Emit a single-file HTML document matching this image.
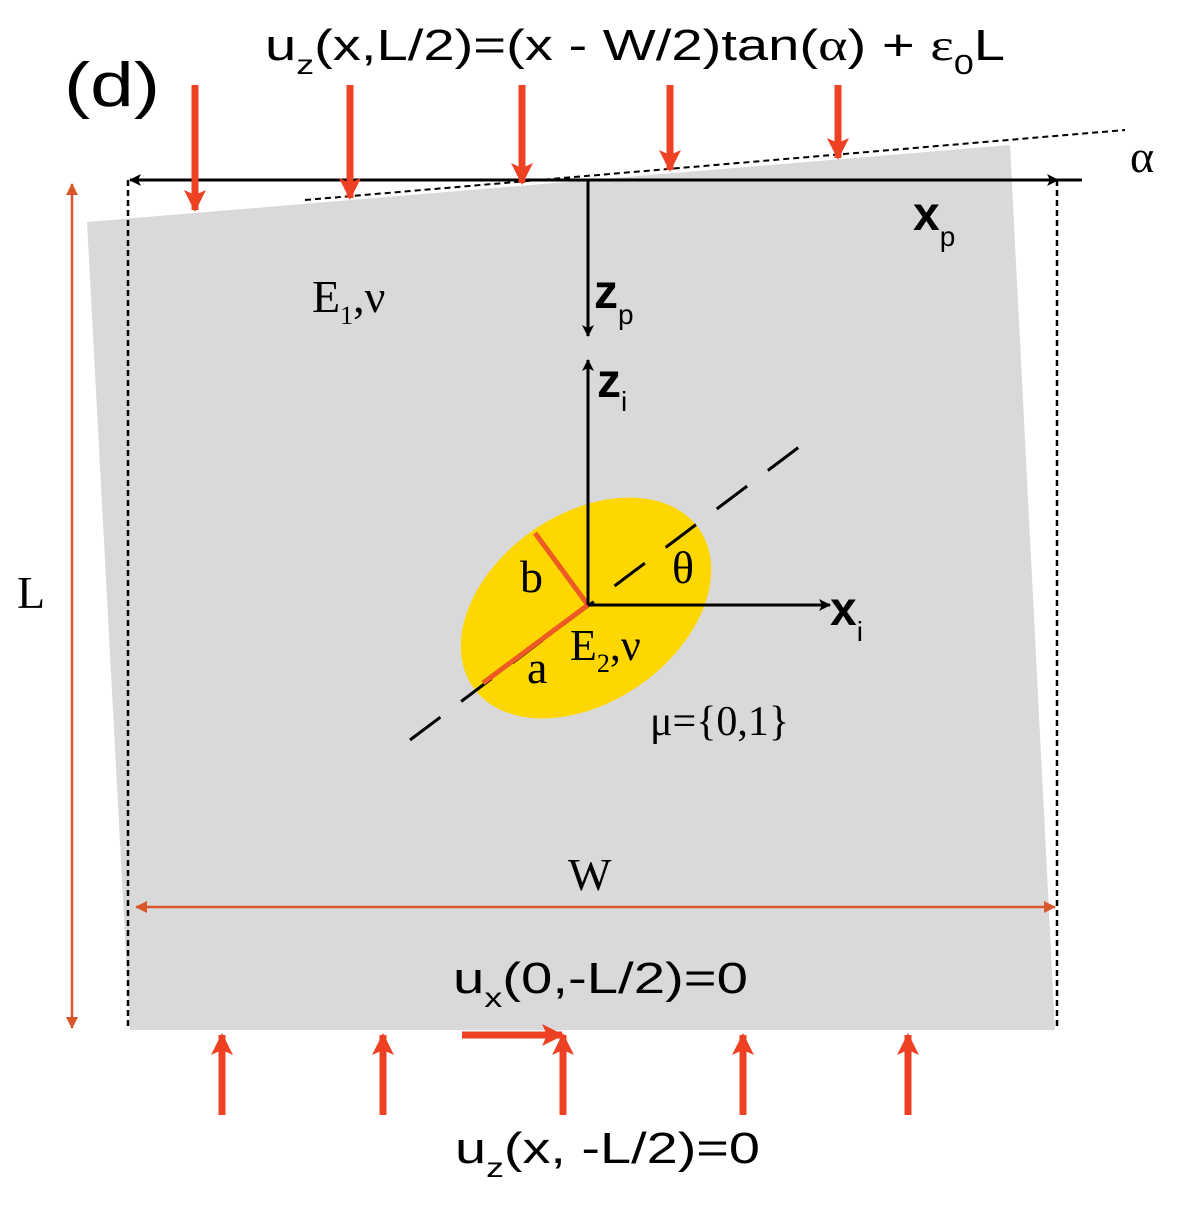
<!DOCTYPE html>
<html><head><meta charset="utf-8"><style>
html,body{margin:0;padding:0;background:#fff;}
svg{display:block;}
.s{font-family:"Liberation Sans",sans-serif;}
.r{font-family:"Liberation Serif",serif;}
</style></head><body>
<svg width="1192" height="1208" viewBox="0 0 1192 1208">
<defs>
<marker id="ab" markerWidth="12" markerHeight="12" refX="11" refY="6" orient="auto-start-reverse" markerUnits="userSpaceOnUse"><path d="M0,0 L12,6 L0,12 L3,6 Z" fill="#000"/></marker>
<marker id="ar" markerWidth="12" markerHeight="12" refX="11" refY="6" orient="auto-start-reverse" markerUnits="userSpaceOnUse"><path d="M0,0 L12,6 L0,12 Z" fill="#d9572a"/></marker>
<marker id="ao" markerWidth="22" markerHeight="22" refX="20" refY="11" orient="auto" markerUnits="userSpaceOnUse"><path d="M0,0 L22,11 L0,22 L5,11 Z" fill="#ee4023"/></marker>
</defs>
<polygon points="87,222 1010,145 1055,1030 130,1030" fill="#d9d9d9"/>
<line x1="128" y1="180" x2="128" y2="1030" stroke="#000" stroke-width="2.5" stroke-dasharray="6,4"/>
<line x1="1057" y1="180" x2="1057" y2="1030" stroke="#000" stroke-width="2.5" stroke-dasharray="6,4"/>
<line x1="305" y1="200" x2="1125" y2="130" stroke="#000" stroke-width="2" stroke-dasharray="6,4"/>
<line x1="130" y1="180" x2="1058" y2="180" stroke="#000" stroke-width="3" marker-start="url(#ab)" marker-end="url(#ab)"/>
<line x1="1058" y1="180" x2="1082" y2="180" stroke="#000" stroke-width="3"/>
<g stroke="#ee4023" stroke-width="7">
<line x1="195" y1="85" x2="195" y2="210" marker-end="url(#ao)"/>
<line x1="350" y1="85" x2="350" y2="198" marker-end="url(#ao)"/>
<line x1="522" y1="85" x2="522" y2="183" marker-end="url(#ao)"/>
<line x1="670" y1="85" x2="670" y2="170" marker-end="url(#ao)"/>
<line x1="838" y1="85" x2="838" y2="158" marker-end="url(#ao)"/>
</g>
<text class="s" x="64" y="106" font-size="62" textLength="96" lengthAdjust="spacingAndGlyphs">(d)</text>
<text class="s" x="265" y="60" font-size="44" textLength="740" lengthAdjust="spacingAndGlyphs">u<tspan font-size="28" dy="14">z</tspan><tspan dy="-14">(x,L/2)=(x - W/2)tan(</tspan><tspan font-family="Liberation Serif">α</tspan>) + <tspan font-family="Liberation Serif">ε</tspan><tspan font-size="28" dy="14">0</tspan><tspan dy="-14">L</tspan></text>
<text class="r" x="1130" y="172" font-size="46">α</text>
<text class="s" x="913" y="230" font-size="48" font-weight="bold">x<tspan font-size="28" font-weight="normal" dy="16">p</tspan></text>
<line x1="588" y1="180" x2="588" y2="336" stroke="#000" stroke-width="3" marker-end="url(#ab)"/>
<text class="s" x="594" y="308" font-size="48" font-weight="bold">z<tspan font-size="28" font-weight="normal" dy="16">p</tspan></text>
<text class="r" x="312" y="312" font-size="46">E<tspan font-size="26" dy="12">1</tspan><tspan dy="-12">,ν</tspan></text>
<ellipse cx="586" cy="608" rx="138" ry="94" transform="rotate(-35 586 608)" fill="#ffd700"/>
<line x1="410" y1="740" x2="815" y2="435" stroke="#000" stroke-width="3" stroke-dasharray="38,26"/>
<line x1="588" y1="605" x2="535" y2="533" stroke="#ee5a24" stroke-width="5"/>
<line x1="588" y1="605" x2="483" y2="683" stroke="#ee5a24" stroke-width="5"/>
<line x1="588" y1="605" x2="588" y2="360" stroke="#000" stroke-width="3" marker-end="url(#ab)"/>
<line x1="588" y1="605" x2="830" y2="605" stroke="#000" stroke-width="3" marker-end="url(#ab)"/>
<text class="s" x="597" y="397" font-size="48" font-weight="bold">z<tspan font-size="28" font-weight="normal" dy="14">i</tspan></text>
<text class="s" x="830" y="625" font-size="48" font-weight="bold">x<tspan font-size="28" font-weight="normal" dy="16">i</tspan></text>
<text class="r" x="520" y="592" font-size="46">b</text>
<text class="r" x="672" y="583" font-size="46">θ</text>
<text class="r" x="527" y="683" font-size="46">a</text>
<text class="r" x="570" y="660" font-size="44">E<tspan font-size="26" dy="12">2</tspan><tspan dy="-12">,ν</tspan></text>
<text class="r" x="650" y="735" font-size="42">μ={0,1}</text>
<line x1="72" y1="184" x2="72" y2="1028" stroke="#d9572a" stroke-width="2.5" marker-start="url(#ar)" marker-end="url(#ar)"/>
<text class="r" x="17" y="608" font-size="46">L</text>
<line x1="136" y1="907" x2="1055" y2="907" stroke="#d9572a" stroke-width="2.5" marker-start="url(#ar)" marker-end="url(#ar)"/>
<text class="r" x="568" y="890" font-size="46">W</text>
<text class="s" x="453" y="993" font-size="44" textLength="295" lengthAdjust="spacingAndGlyphs">u<tspan font-size="28" dy="14">x</tspan><tspan dy="-14">(0,-L/2)=0</tspan></text>
<line x1="462" y1="1035" x2="562" y2="1035" stroke="#ee4023" stroke-width="7" marker-end="url(#ao)"/>
<g stroke="#ee4023" stroke-width="7">
<line x1="222" y1="1115" x2="222" y2="1035" marker-end="url(#ao)"/>
<line x1="383" y1="1115" x2="383" y2="1035" marker-end="url(#ao)"/>
<line x1="563" y1="1115" x2="563" y2="1035" marker-end="url(#ao)"/>
<line x1="743" y1="1115" x2="743" y2="1035" marker-end="url(#ao)"/>
<line x1="908" y1="1115" x2="908" y2="1035" marker-end="url(#ao)"/>
</g>
<text class="s" x="455" y="1163" font-size="44" textLength="305" lengthAdjust="spacingAndGlyphs">u<tspan font-size="28" dy="14">z</tspan><tspan dy="-14">(x, -L/2)=0</tspan></text>
</svg>
</body></html>
